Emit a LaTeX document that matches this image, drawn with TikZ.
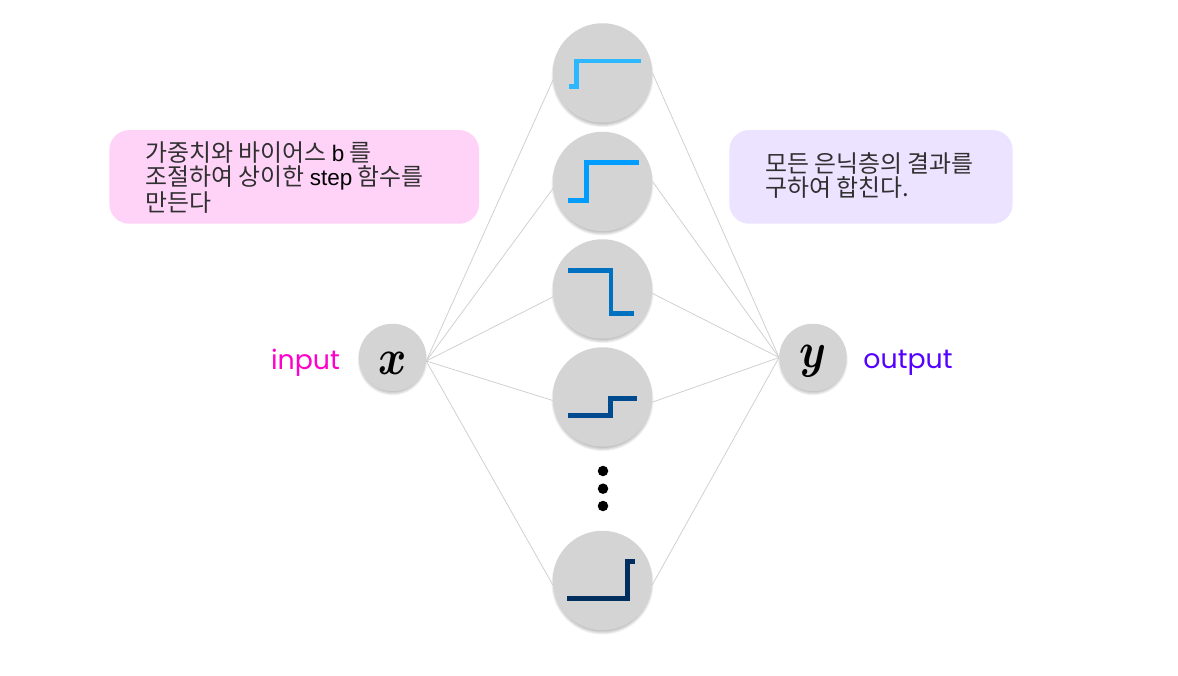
\documentclass[tikz,border=0pt]{standalone}
\usepackage{fontspec}
\setmainfont{Liberation Sans}
\newfontfamily\kr{Noto Sans CJK KR}
\newfontfamily\lab{Poppins}
\definecolor{nodegray}{HTML}{D4D4D4}
\definecolor{linkgray}{HTML}{CFCFCF}
\definecolor{pinkbox}{HTML}{FFD2F8}
\definecolor{lavbox}{HTML}{EBE3FF}
\definecolor{txt}{HTML}{303030}
\definecolor{inmag}{HTML}{FF00CC}
\definecolor{outviolet}{HTML}{5500FF}
\definecolor{s1}{HTML}{2DB7FF}
\definecolor{s2}{HTML}{009DFF}
\definecolor{s3}{HTML}{0070C0}
\definecolor{s4}{HTML}{004A8F}
\definecolor{s5}{HTML}{002F5F}
\tikzset{
  x=1pt,y=-1pt,
  hidden/.style={circle,fill=nodegray,draw=none,inner sep=0pt,minimum size=99.5pt},
  inout/.style={circle,fill=nodegray,draw=none,inner sep=0pt,minimum size=67.5pt},
  link/.style={draw=linkgray,line width=0.75pt},
  stepline/.style={line width=4.8pt,line join=miter},
  note/.style={rounded corners=20pt,draw=none},
  notetext/.style={anchor=north west,align=left,inner sep=0pt,text=txt,font=\fontsize{23.9}{24}\selectfont\kr},
  iolabel/.style={anchor=center,inner sep=0pt,font=\fontsize{26.8}{29}\selectfont\lab},
  ellipsisdot/.style={circle,fill=black,inner sep=0pt,minimum size=10.5pt}
}
\newcommand{\softshadow}[3]{%
  \foreach \d in {-3,-2,-1,0,1}
    \fill[black,opacity=0.06] (#1,#2+3) circle[radius=#3+\d];
}
\newcommand{\latinpart}[1]{{\fontsize{22.5}{24}\selectfont\rmfamily\color{black}#1}}
\newcommand{\bigmath}[1]{\scalebox{4.3}[5]{\fontsize{10}{12}\selectfont\boldmath$#1$}}
\begin{document}
\begin{tikzpicture}
\useasboundingbox (0,0) rectangle (1178,676);
\fill[white] (0,0) rectangle (1178,676);
% note boxes
\node[note,fill=pinkbox,minimum width=369.7pt,minimum height=93.7pt,inner sep=0pt] (leftbox) at (294.2,176.9) {};
\node[note,fill=lavbox,minimum width=283.4pt,minimum height=93.7pt,inner sep=0pt] (rightbox) at (871,176.9) {};
\node[notetext] (lefttext) at (145,142) {가중치와 바이어스 \latinpart{b} 를\\조절하여 상이한 \latinpart{step} 함수를\\만든다};
\node[notetext] (righttext) at (765,152) {모든 은닉층의 결과를\\구하여 합친다.};
% shadows
\softshadow{602.5}{73}{50}
\softshadow{602.5}{181.5}{50}
\softshadow{602.5}{289}{50}
\softshadow{602.5}{397}{50}
\softshadow{602.5}{580.5}{50}
\softshadow{392.5}{357.5}{33.7}
\softshadow{813}{357.5}{33.7}
% nodes
\node[hidden] (c1) at (602.5,73) {};
\node[hidden] (c2) at (602.5,181.5) {};
\node[hidden] (c3) at (602.5,289) {};
\node[hidden] (c4) at (602.5,397) {};
\node[hidden] (c5) at (602.5,580.5) {};
\node[inout] (x) at (392.5,357.5) {\smash{\raisebox{-17pt}{\bigmath{x}}}};
\node[inout] (y) at (813,357.5) {\smash{\raisebox{-9.5pt}{\bigmath{y}}}};
% connectors
\foreach \n/\a in {c1/188,c2/188,c3/189,c4/184,c5/185}
  \draw[link] (x.-6) -- (\n.\a);
\foreach \n/\a in {c1/0,c2/0,c3/-5,c4/-6,c5/-5}
  \draw[link] (\n.\a) -- (y.west);
% step curves
\draw[stepline,s1] (569.3,86.3) -- (576.7,86.3) -- (576.7,61) -- (641,61);
\draw[stepline,s2] (568,200.3) -- (586.7,200.3) -- (586.7,162.7) -- (639.3,162.7);
\draw[stepline,s3] (568,270.7) -- (611,270.7) -- (611,313.7) -- (634.3,313.7);
\draw[stepline,s4] (568,415.7) -- (610.7,415.7) -- (610.7,398.3) -- (637,398.3);
\draw[stepline,s5] (567.3,598.7) -- (627.7,598.7) -- (627.7,561.7) -- (635,561.7);
% ellipsis
\node[ellipsisdot] (d1) at (603,471) {};
\node[ellipsisdot] (d2) at (603,488.7) {};
\node[ellipsisdot] (d3) at (603,506) {};
% labels
\node[iolabel,text=inmag] (inlabel) at (305.5,363) {input};
\node[iolabel,text=outviolet] (outlabel) at (908,363) {output};
\end{tikzpicture}
\end{document}
